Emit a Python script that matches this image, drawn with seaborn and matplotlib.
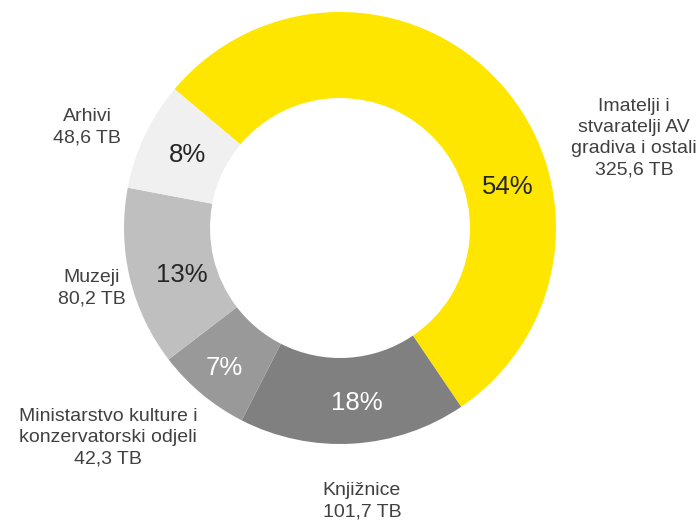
import matplotlib
matplotlib.use('Agg')
import matplotlib.pyplot as plt
import seaborn as sns
import numpy as np

# data
categories = ['Imatelji i\nstvaratelji AV\ngradiva i ostali', 'Knjižnice',
              'Ministarstvo kulture i\nkonzervatorski odjeli', 'Muzeji', 'Arhivi']
values_tb = [325.6, 101.7, 42.3, 80.2, 48.6]
value_labels = ['325,6 TB', '101,7 TB', '42,3 TB', '80,2 TB', '48,6 TB']
pct_labels = ['54%', '18%', '7%', '13%', '8%']

colors = ['#FFE600', '#808080', '#999999', '#BFBFBF', '#F0F0F0']
pct_colors = ['#262626', 'white', 'white', '#262626', '#262626']

sns.set_theme(style='white')
plt.rcParams['font.family'] = ['Liberation Sans', 'DejaVu Sans']

fig = plt.figure(figsize=(7, 5.24), dpi=100)
ax = fig.add_axes([0, 0, 1, 1])

cx, cy, r_out, r_in = 340, 296, 216, 130
wedges, _ = ax.pie(values_tb, colors=colors, startangle=140, counterclock=False,
                   center=(cx, cy), radius=r_out,
                   wedgeprops=dict(width=r_out - r_in, edgecolor='none'))

# pie resets the limits, so set them afterwards (1 unit = 1 pixel)
ax.set_xlim(0, 700)
ax.set_ylim(0, 524)
ax.set_aspect('equal')
ax.axis('off')

# percentage labels on the ring (placed like in the original)
pct_pos = [(508, 337), (357, 121), (224, 156), (182, 249), (188, 369)]
for (x, y), txt, c in zip(pct_pos, pct_labels, pct_colors):
    ax.text(x, y, txt, ha='center', va='center', fontsize=18.5, color=c)

# outer category labels
label_pos = [(634, 386), (362, 23), (108, 86), (92, 236), (87, 397)]
for (x, y), cat, val in zip(label_pos, categories, value_labels):
    ax.text(x, y, cat + '\n' + val, ha='center', va='center', fontsize=14,
            color='#404040', linespacing=1.32)

fig.savefig('out.png', dpi=100)
